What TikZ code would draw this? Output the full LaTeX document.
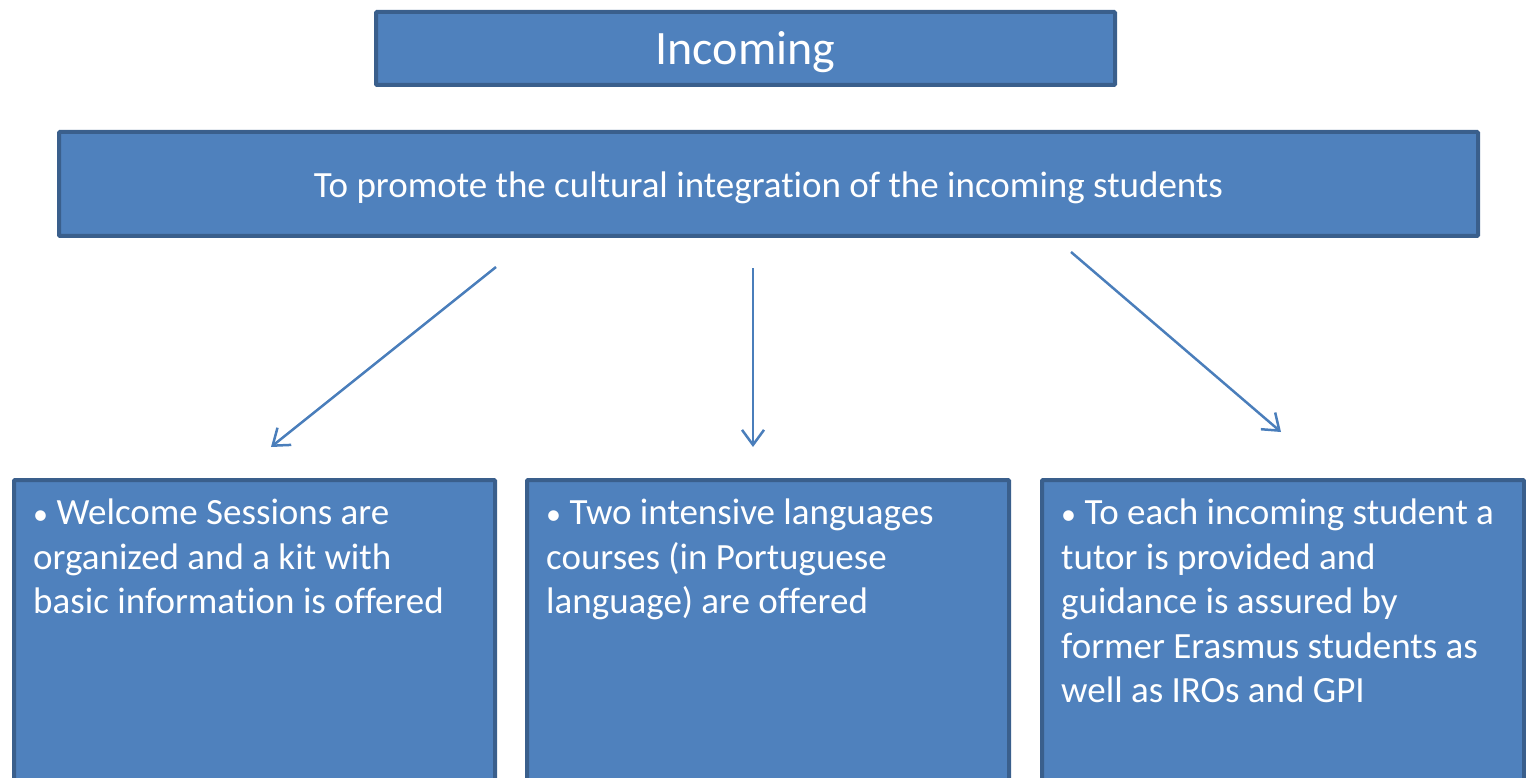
\documentclass[tikz,border=0pt]{standalone}
\usepackage{fontspec}
\setmainfont{Carlito}[RawFeature={-liga;-clig;-calt;-dlig}]
\usepackage{tikz}
\usetikzlibrary{arrows.meta,positioning}
\definecolor{boxfill}{HTML}{4F81BD}
\definecolor{boxline}{HTML}{3A5F8C}
\definecolor{arrowline}{HTML}{4A7EBB}
\newcommand{\itembullet}{{\fontsize{30}{30}\selectfont\textbullet}}
\newcommand{\lowered}[1]{\raisebox{-4pt}[\height][\depth]{#1}}
\tikzset{
  blockbox/.style={draw=boxline,fill=boxfill,line width=4pt,rounded corners=1pt,
    text=white,inner sep=0pt},
  itemtext/.style={text=white,align=left,inner sep=0pt,anchor=north west,
    font=\fontsize{37}{44.5}\selectfont},
  pointer/.style={draw=arrowline,line width=2.5pt,
    -{Straight Barb[length=15pt,width=22pt,line width=2.5pt]}}
}

\begin{document}
\begin{tikzpicture}[x=1pt,y=-1pt]
\useasboundingbox (0,0) rectangle (1526,778);
\begin{scope}
\clip (0,0) rectangle (1526,778);
\node[blockbox,minimum width=739pt,minimum height=73pt,
  font=\fontsize{48}{58}\selectfont] (incoming) at (745.5,48.5) {\lowered{Incoming}};
\node[blockbox,minimum width=1419pt,minimum height=104pt,
  font=\fontsize{37}{44.5}\selectfont] (aim) at (768.5,184) {\lowered{To promote the cultural integration of the incoming students}};
% the three measures
\node[blockbox,minimum width=481pt,minimum height=330pt] (welcome) at (254.5,645) {};
\node[blockbox,minimum width=482pt,minimum height=330pt] (courses) at (768,645) {};
\node[blockbox,minimum width=482pt,minimum height=330pt] (tutor) at (1283,645) {};
\end{scope}
\node[itemtext] (welcometext) at (33,499) {\itembullet{} Welcome Sessions are\\organized and a kit with\\basic information is offered};
\node[itemtext] (coursestext) at (546,499) {\itembullet{} Two intensive languages\\courses (in Portuguese\\language) are offered};
\node[itemtext] (tutortext) at (1061,499) {\itembullet{} To each incoming student a\\tutor is provided and\\guidance is assured by\\former Erasmus students as\\well as IROs and GPI};
% arrows
\coordinate (leftstart) at (496,267);
\coordinate (leftend) at (271,447);
\coordinate (midstart) at (753,268);
\coordinate (midend) at (753,447);
\coordinate (rightstart) at (1071,252);
\coordinate (rightend) at (1281,432);
\draw[pointer] (leftstart) -- (leftend);
\draw[pointer] (midstart) -- (midend);
\draw[pointer] (rightstart) -- (rightend);
\end{tikzpicture}
\end{document}
